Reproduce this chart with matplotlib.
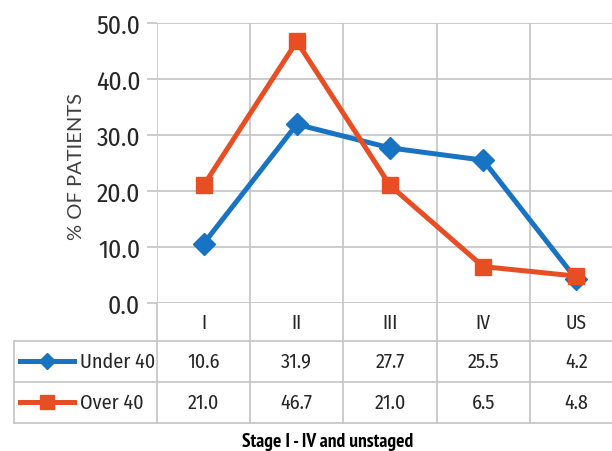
import matplotlib.pyplot as plt
from matplotlib.lines import Line2D

stages = ["I", "II", "III", "IV", "US"]
under_40 = [10.6, 31.9, 27.7, 25.5, 4.2]
over_40 = [21.0, 46.7, 21.0, 6.5, 4.8]
series_names = ["Under 40", "Over 40"]
y_ticks = [0, 10, 20, 30, 40, 50]

blue = "#1873C3"
orange = "#E84E24"
grid_c = "#C4C4C4"
cond = dict(family=["Fira Sans Condensed", "Open Sans", "DejaVu Sans"],
            fontweight="normal")

W, H = 612, 452
fig = plt.figure(figsize=(W / 100, H / 100), dpi=100)

# plot area in pixels (right side runs past the image edge, like the source)
x0, x1, ytop, ybot = 157, 623, 24, 304
ax = fig.add_axes([x0 / W, 1 - ybot / H, (x1 - x0) / W, (ybot - ytop) / H])
ax.set_xlim(-0.5, len(stages) - 0.5)
ax.set_ylim(0, 50)
for s in ax.spines.values():
    s.set_visible(False)

ax.set_yticks(y_ticks)
ax.set_yticklabels([f"{v:.1f}" for v in y_ticks], fontsize=18.5,
                   color="#262626", **cond)
ax.tick_params(axis="y", length=7, width=1.2, color=grid_c, pad=5)
ax.set_xticks([])
for v in y_ticks:
    ax.axhline(v, color=grid_c, lw=1.2, zorder=1)
for b in range(len(stages) + 1):
    ax.axvline(b - 0.5, color=grid_c, lw=1.2, zorder=1)

ax.plot(range(len(stages)), under_40, color=blue, lw=3.6, marker="D",
        ms=11, zorder=3, clip_on=False)
ax.plot(range(len(stages)), over_40, color=orange, lw=3.6, marker="s",
        ms=11.5, zorder=4, clip_on=False)

fig.text(77 / W, 1 - 166 / H, "% OF PATIENTS", rotation=90, ha="center",
         va="center", fontsize=14.5, family=["Lato", "DejaVu Sans"],
         color="#404040")

# data table under the chart
xt = ax.get_xaxis_transform()


def ay(ypx):
    return (ybot - ypx) / (ybot - ytop)


row_lines = [342, 383, 424]
for yl in row_lines:
    fig.add_artist(Line2D([14 / W, 1], [1 - yl / H] * 2, color=grid_c, lw=1.2))
fig.add_artist(Line2D([14 / W] * 2, [1 - 342 / H, 1 - 424 / H], color=grid_c, lw=1.2))
for b in range(len(stages) + 1):
    ax.plot([b - 0.5, b - 0.5], [ay(ybot), ay(424)], color=grid_c, lw=1.2,
            transform=xt, clip_on=False)

for i, s in enumerate(stages):
    ax.text(i, ay(323), s, transform=xt, ha="center", va="center",
            fontsize=14, color="#262626", **cond)

rows = [(under_40, blue, "D", 8), (over_40, orange, "s", 9.5)]
row_y = [362, 403]
for (vals, col, mk, ms), name, yr in zip(rows, series_names, row_y):
    for i, v in enumerate(vals):
        ax.text(i, ay(yr), f"{v:.1f}", transform=xt, ha="center", va="center",
                fontsize=14.5, color="#262626", **cond)
    fig.add_artist(Line2D([20 / W, 74 / W], [1 - yr / H] * 2, color=col, lw=3.6))
    fig.add_artist(Line2D([47 / W], [1 - yr / H], color=col, marker=mk, ms=ms, lw=0))
    fig.text(80 / W, 1 - yr / H, name, ha="left", va="center", fontsize=14.5,
             color="#262626", **cond)

fig.text(328 / W, 1 - 442 / H, "Stage I - IV and unstaged", ha="center",
         va="center", fontsize=14, family=["PT Sans Narrow", "DejaVu Sans"],
         fontweight="bold", color="black")

fig.savefig("out.png", dpi=100)
